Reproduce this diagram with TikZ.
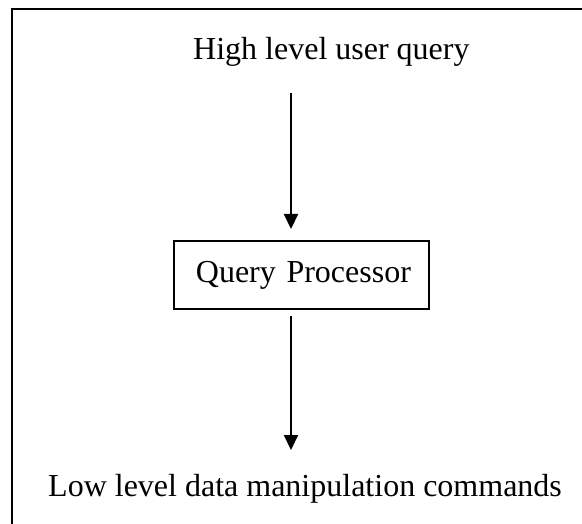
\documentclass[tikz,border=0pt]{standalone}
\usepackage{fontspec}
\setmainfont{Liberation Serif}
\usetikzlibrary{arrows.meta}
\tikzset{
  label text/.style={font=\fontsize{32}{38}\selectfont, inner sep=0pt, anchor=base west},
  procbox/.style={draw, line width=1.8pt, font=\fontsize{32}{38}\selectfont,
    text width=211pt, align=left, inner xsep=22pt, inner ysep=0pt,
    minimum height=68pt, anchor=north west},
  flow/.style={line width=2.2pt, -{Triangle[length=15pt,width=14pt]}},
  frame/.style={line width=2.2pt}
}
\begin{document}
\begin{tikzpicture}[x=1pt,y=-1pt]
  \useasboundingbox (0,0) rectangle (582,524);
  % outer frame, open to the right and bottom
  \begin{scope}
    \clip (0,0) rectangle (582,524);
    \draw[frame] (12,540) -- (12,9) -- (600,9);
  \end{scope}

  % texts and the processor box
  \node[label text] (top) at (193,60) {High level user query};
  \node[procbox] (qp) at (173,240) {\mbox{Query Processor}};
  \node[label text] (bottom) at (48,496) {Low level data manipulation commands};

  % connectors
  \coordinate (a1s) at (291,93);
  \coordinate (a2e) at (291,450);
  \draw[flow, shorten >=11pt] (a1s) -- (a1s |- qp.north);
  \draw[flow, shorten <=6pt] (a2e |- qp.south) -- (a2e);
\end{tikzpicture}
\end{document}
